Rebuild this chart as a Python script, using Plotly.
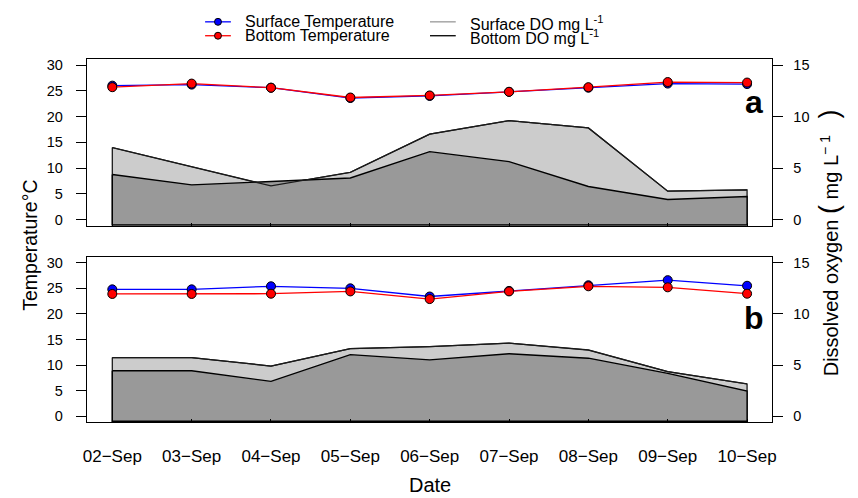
import plotly.graph_objects as go

dates = ["02−Sep", "03−Sep", "04−Sep", "05−Sep", "06−Sep", "07−Sep", "08−Sep", "09−Sep", "10−Sep"]

# Panel a
surf_temp_a = [26.0, 26.2, 25.6, 23.6, 24.0, 24.8, 25.6, 26.4, 26.3]
bott_temp_a = [25.7, 26.4, 25.6, 23.7, 24.1, 24.8, 25.7, 26.7, 26.6]
surf_do_a = [7.0, 5.15, 3.28, 4.6, 8.3, 9.6, 8.9, 2.77, 2.9]
bott_do_a = [4.38, 3.38, 3.7, 4.05, 6.6, 5.63, 3.22, 1.96, 2.25]

# Panel b
surf_temp_b = [24.8, 24.8, 25.4, 25.0, 23.4, 24.5, 25.6, 26.6, 25.5]
bott_temp_b = [23.9, 23.9, 23.95, 24.4, 22.9, 24.4, 25.4, 25.2, 23.95]
surf_do_b = [5.73, 5.73, 4.9, 6.6, 6.8, 7.15, 6.47, 4.35, 3.15]
bott_do_b = [4.44, 4.44, 3.4, 6.02, 5.5, 6.1, 5.67, 4.18, 2.45]

temp_ticks = [0, 5, 10, 15, 20, 25, 30]
do_ticks = [0, 5, 10, 15]

W, H = 858, 498
FONT = "Liberation Sans"
LIGHT = "rgb(204,204,204)"
DARK = "rgb(153,153,153)"
DO_BASE = -0.5


def px(x):
    return x / W


def py(y):
    return 1 - y / H


fig = go.Figure()


def add_panel(xa, ya, ya2, st, bt, sd, bd):
    xs = dates + [dates[-1], dates[0], dates[0]]
    # surface DO polygon (light)
    fig.add_trace(go.Scatter(x=xs, y=sd + [DO_BASE, DO_BASE, sd[0]], xaxis=xa, yaxis=ya2,
                             mode="lines", fill="toself", fillcolor=LIGHT,
                             line=dict(color="#1a1a1a", width=1.3), showlegend=False,
                             hoverinfo="skip"))
    # bottom DO polygon (dark)
    fig.add_trace(go.Scatter(x=xs, y=bd + [DO_BASE, DO_BASE, bd[0]], xaxis=xa, yaxis=ya2,
                             mode="lines", fill="toself", fillcolor=DARK,
                             line=dict(color="black", width=1.4), showlegend=False,
                             hoverinfo="skip"))
    # surface DO line on top
    fig.add_trace(go.Scatter(x=dates, y=sd, xaxis=xa, yaxis=ya2, mode="lines",
                             line=dict(color="#1a1a1a", width=1.2), showlegend=False,
                             hoverinfo="skip"))
    fig.add_trace(go.Scatter(x=dates, y=st, xaxis=xa, yaxis=ya, mode="lines+markers",
                             line=dict(color="blue", width=1.3),
                             marker=dict(color="blue", size=9, line=dict(color="black", width=1)),
                             showlegend=False))
    fig.add_trace(go.Scatter(x=dates, y=bt, xaxis=xa, yaxis=ya, mode="lines+markers",
                             line=dict(color="red", width=1.3),
                             marker=dict(color="red", size=9, line=dict(color="black", width=1)),
                             showlegend=False))


add_panel("x", "y", "y2", surf_temp_a, bott_temp_a, surf_do_a, bott_do_a)
add_panel("x2", "y3", "y4", surf_temp_b, bott_temp_b, surf_do_b, bott_do_b)

xdom = [px(83.7), px(775.7)]
ydom_a = [py(225.7), py(57.3)]
ydom_b = [py(423.7), py(256.7)]

common_x = dict(domain=xdom, type="category", range=[-0.32, 8.32],
                tickvals=dates, ticks="inside", ticklen=3, tickcolor="black",
                showline=True, linecolor="black", linewidth=1.4, mirror=True,
                showgrid=False, zeroline=False, layer="above traces")
common_yl = dict(range=[-1.2, 31.2], tickvals=temp_ticks, ticks="outside", ticklen=10,
                 tickcolor="black", tickwidth=1, showline=True, linecolor="black",
                 linewidth=1.4, mirror=True, showgrid=False, zeroline=False,
                 tickfont=dict(family=FONT, size=14.5, color="black"),
                 ticklabelstandoff=10, layer="above traces")
common_yr = dict(range=[-0.6, 15.6], tickvals=do_ticks, ticks="outside", ticklen=10,
                 tickcolor="black", tickwidth=1, side="right", showgrid=False,
                 zeroline=False, showline=False,
                 tickfont=dict(family=FONT, size=14.5, color="black"),
                 ticklabelstandoff=7)

fig.update_layout(
    width=W, height=H, margin=dict(l=0, r=0, t=0, b=0),
    paper_bgcolor="white", plot_bgcolor="white",
    font=dict(family=FONT, color="black"),
    showlegend=False,
    xaxis=dict(common_x, anchor="y", showticklabels=False),
    xaxis2=dict(common_x, anchor="y3", showticklabels=True,
                tickfont=dict(family=FONT, size=17, color="black"),
                ticklabelstandoff=18),
    yaxis=dict(common_yl, domain=ydom_a, anchor="x"),
    yaxis2=dict(common_yr, overlaying="y", anchor="x"),
    yaxis3=dict(common_yl, domain=ydom_b, anchor="x2"),
    yaxis4=dict(common_yr, overlaying="y3", anchor="x2"),
)

ann = []
shapes = []
# manual legend
leg_rows = [20, 34]
col1 = (203, 229, 241.7)
col2 = (430, 456, 468.3)
LEG_SIZE = 16
for row, (name, col) in enumerate([("Surface Temperature", "blue"), ("Bottom Temperature", "red")]):
    yy = leg_rows[row]
    shapes.append(dict(type="line", xref="paper", yref="paper", x0=px(col1[0]), x1=px(col1[1]),
                       y0=py(yy), y1=py(yy), line=dict(color=col, width=1.3)))
    cx = (col1[0] + col1[1]) / 2
    shapes.append(dict(type="circle", xref="paper", yref="paper", x0=px(cx - 3.5), x1=px(cx + 3.5),
                       y0=py(yy + 3.5), y1=py(yy - 3.5), fillcolor=col,
                       line=dict(color="black", width=1)))
    ann.append(dict(text=name, x=px(col1[2]), y=py(yy), xref="paper", yref="paper",
                    xanchor="left", yanchor="middle", showarrow=False,
                    font=dict(family=FONT, size=LEG_SIZE, color="black")))
for row, (name, col) in enumerate([("Surface DO mg L<sup>-1</sup>", "#999999"),
                                   ("Bottom DO mg L<sup>-1</sup>", "black")]):
    yy = leg_rows[row]
    shapes.append(dict(type="line", xref="paper", yref="paper", x0=px(col2[0]), x1=px(col2[1]),
                       y0=py(yy), y1=py(yy), line=dict(color=col, width=1.3)))
    ann.append(dict(text=name, x=px(col2[2]), y=py(yy + 1), xref="paper", yref="paper",
                    xanchor="left", yanchor="middle", showarrow=False,
                    font=dict(family=FONT, size=LEG_SIZE, color="black")))

ann.append(dict(text="<b>a</b>", x=px(757), y=py(101), xref="paper", yref="paper",
                xanchor="center", yanchor="middle", showarrow=False,
                font=dict(family=FONT, size=32, color="black")))
ann.append(dict(text="<b>b</b>", x=px(757), y=py(319), xref="paper", yref="paper",
                xanchor="center", yanchor="middle", showarrow=False,
                font=dict(family=FONT, size=32, color="black")))
ann.append(dict(text="Temperature°C", x=px(26), y=py(245), xref="paper", yref="paper",
                xanchor="center", yanchor="middle", textangle=-90, showarrow=False,
                font=dict(family=FONT, size=19.5, color="black")))
nb = "\u00a0"
ann.append(dict(text=("Dissolved oxygen " + "<span style='font-size:27px'>(</span>" + nb +
                      "mg L<sup>\u2212" + nb + "1</sup>" + nb + nb + nb +
                      "<span style='font-size:27px'>)</span>"),
                x=px(833), y=py(243),
                xref="paper", yref="paper", xanchor="center", yanchor="middle",
                textangle=-90, showarrow=False,
                font=dict(family=FONT, size=20, color="black")))
ann.append(dict(text="Date", x=px(430), y=py(487), xref="paper", yref="paper",
                xanchor="center", yanchor="middle", showarrow=False,
                font=dict(family=FONT, size=20, color="black")))

fig.update_layout(annotations=ann, shapes=shapes)
fig.write_html("out.html")
